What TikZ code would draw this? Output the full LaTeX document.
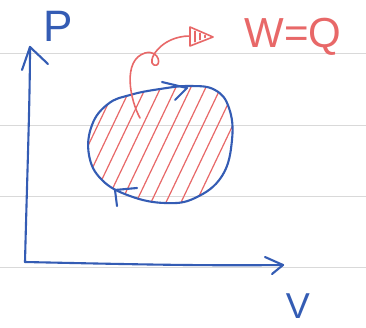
\documentclass[tikz,border=0pt]{standalone}
\usepackage{fontspec}
\setmainfont{Liberation Sans}
\begin{document}
\begin{tikzpicture}[x=1pt,y=-1pt,
  ruled/.style={draw=black!15,line width=0.8pt},
  ink/.style={draw=inkblue,line width=2.1pt,line cap=round,line join=round},
  redink/.style={draw=inkred,line width=1.6pt,line cap=round,line join=round},
  hatch/.style={draw=inkred,line width=1.2pt,line cap=round},
  lbl/.style={inner sep=0pt,anchor=center}]
\definecolor{inkblue}{RGB}{52,92,180}
\definecolor{inkred}{RGB}{232,104,104}
\useasboundingbox (0,0) rectangle (366,327);
\fill[white] (0,0) rectangle (366,327);
% ruled lines
\foreach \yy in {53,125,196,267} \draw[ruled] (0,\yy) -- (366,\yy);
% axes
\coordinate (O) at (25,262);
\coordinate (Ptop) at (30,47);
\coordinate (Vend) at (283,265);
\draw[ink] (O) .. controls (27,180) and (30,100) .. (Ptop);
\draw[ink] (22,70) -- (Ptop) -- (48,64);
\draw[ink] (O) .. controls (120,264) and (200,266) .. (Vend);
\draw[ink] (265,257) -- (Vend) -- (272,274);
\node[lbl,text=inkblue,font=\fontsize{44}{44}\selectfont] (P) at (58,26) {P};
\node[lbl,text=inkblue,font=\fontsize{36}{36}\selectfont] (V) at (298,306) {V};
% loop
\def\looppath{plot[smooth cycle,tension=0.7] coordinates {(130,95) (160,89) (190,86) (215,90) (229,108) (232,140) (222,176) (195,198) (165,203) (130,196) (102,180) (89,155) (92,125) (108,104)}}
\begin{scope}
  \clip \looppath;
  \foreach \xx in {40,55,...,250} \draw[hatch] (\xx,215) -- (\xx+62,85);
\end{scope}
\draw[ink] \looppath;
% direction marks
\coordinate (topmark) at (187,88);
\coordinate (botmark) at (115,190);
\draw[ink] (162,82) -- (topmark) -- (175,100);
\draw[ink] (117,206) -- (botmark) -- (137,188);
% red connector
\coordinate (start) at (140,118);
\coordinate (tri) at (190,36);
\draw[redink] (start) .. controls (130,100) and (122,60) .. (145,53)
  .. controls (160,49) and (162,68) .. (154,65)
  .. controls (146,62) and (160,36) .. (tri);
\draw[redink,fill=white] (190,27) -- (213,37) -- (190,46) -- cycle;
\foreach \xx in {195,200,205} \draw[redink,line width=1.2pt] (\xx,{29+(\xx-190)*0.43}) -- (\xx,{44-(\xx-190)*0.43});
\node[lbl,text=inkred,font=\fontsize{42}{42}\selectfont] (WQ) at (293,37) {W=Q};
\end{tikzpicture}
\end{document}
